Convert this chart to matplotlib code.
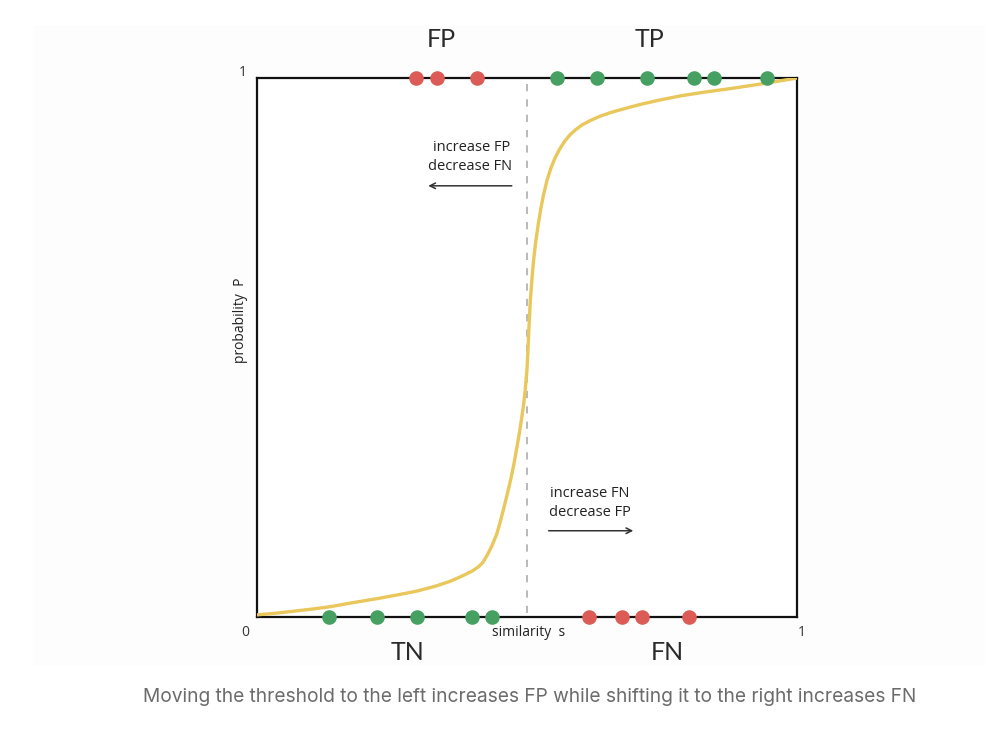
import matplotlib
matplotlib.use("Agg")
import matplotlib.pyplot as plt
from matplotlib.patches import Rectangle

# ---- data ----
curve_s = [0.000, 0.035, 0.070, 0.105, 0.135, 0.180, 0.228, 0.260, 0.296, 0.330,
           0.357, 0.380, 0.398, 0.410, 0.418, 0.426, 0.435, 0.444, 0.450, 0.456,
           0.463, 0.470, 0.476, 0.481, 0.486, 0.490, 0.494, 0.497, 0.500, 0.502,
           0.504, 0.506, 0.509, 0.512, 0.516, 0.521, 0.526, 0.531, 0.537, 0.544,
           0.552, 0.561, 0.570, 0.580, 0.590, 0.602, 0.617, 0.635, 0.655, 0.680,
           0.710, 0.745, 0.785, 0.830, 0.881, 0.940, 1.000]
curve_p = [0.004, 0.007, 0.011, 0.015, 0.019, 0.027, 0.035, 0.041, 0.048, 0.057,
           0.066, 0.076, 0.085, 0.093, 0.101, 0.114, 0.132, 0.154, 0.175, 0.198,
           0.226, 0.256, 0.285, 0.313, 0.342, 0.368, 0.396, 0.425, 0.460, 0.500,
           0.545, 0.585, 0.625, 0.660, 0.695, 0.730, 0.760, 0.785, 0.810, 0.832,
           0.852, 0.869, 0.883, 0.895, 0.904, 0.913, 0.921, 0.929, 0.936, 0.943,
           0.951, 0.959, 0.967, 0.974, 0.981, 0.990, 1.000]

top_red = [0.294, 0.333, 0.407]                       # FP
top_green = [0.556, 0.630, 0.722, 0.809, 0.846, 0.944]  # TP
bottom_green = [0.133, 0.222, 0.296, 0.398, 0.435]     # TN
bottom_red = [0.615, 0.676, 0.713, 0.800]              # FN
threshold = 0.5

quadrant_labels = ["FP", "TP", "TN", "FN"]
caption = "Moving the threshold to the left increases FP while shifting it to the right increases FN"

RED = "#dc5b56"
GREEN = "#46a062"
YELLOW = "#e9c75a"

fig = plt.figure(figsize=(10, 7.36), dpi=100)
fig.patch.set_facecolor("white")
bg = Rectangle((0.033, 0.097), 0.952, 0.869, transform=fig.transFigure,
               facecolor="#fdfdfd", edgecolor="none", zorder=-10)
fig.patches.append(bg)

ax = fig.add_axes([0.257, 0.1617, 0.54, 0.7323])
ax.set_zorder(5)
ax.set_facecolor("white")
ax.set_xlim(0, 1)
ax.set_ylim(0, 1)
for sp in ax.spines.values():
    sp.set_linewidth(1.6)
    sp.set_color("#111111")
ax.set_xticks([])
ax.set_yticks([])

ax.plot(curve_s, curve_p, color=YELLOW, lw=2.4, solid_capstyle="round",
        solid_joinstyle="round", zorder=3)
ax.plot([threshold, threshold], [0.008, 0.995], color="#b3b3b3", lw=1.3,
        dashes=(4, 4.5), zorder=2)

mk = dict(marker="o", ms=10.5, ls="none", clip_on=False, zorder=5, mec="none")
ax.plot(top_red, [1] * len(top_red), color=RED, **mk)
ax.plot(top_green, [1] * len(top_green), color=GREEN, **mk)
ax.plot(bottom_green, [0] * len(bottom_green), color=GREEN, **mk)
ax.plot(bottom_red, [0] * len(bottom_red), color=RED, **mk)

big = dict(fontsize=18, color="#2a2a2a", family="Lato", ha="center", va="center")
ax.text(0.341, 1.072, quadrant_labels[0], transform=ax.transAxes, **big)
ax.text(0.727, 1.072, quadrant_labels[1], transform=ax.transAxes, **big)
ax.text(0.278, -0.065, quadrant_labels[2], transform=ax.transAxes, **big)
ax.text(0.759, -0.065, quadrant_labels[3], transform=ax.transAxes, **big)

small = dict(fontsize=10.5, color="#222222", family="Open Sans", va="center",
             transform=ax.transAxes)
ax.text(0.397, 0.872, "increase FP", ha="center", **small)
ax.text(0.395, 0.835, "decrease FN", ha="center", **small)
ax.annotate("", xy=(0.312, 0.800), xytext=(0.477, 0.800), xycoords="axes fraction",
            arrowprops=dict(arrowstyle="->", color="#333333", lw=1.1))
ax.text(0.617, 0.230, "increase FN", ha="center", **small)
ax.text(0.617, 0.193, "decrease FP", ha="center", **small)
ax.annotate("", xy=(0.702, 0.160), xytext=(0.535, 0.160), xycoords="axes fraction",
            arrowprops=dict(arrowstyle="->", color="#333333", lw=1.1))

ax.text(0.502, -0.029, "similarity  s", ha="center", va="center", fontsize=10,
        color="#222222", family="Open Sans", transform=ax.transAxes)
ax.text(-0.030, 0.550, "probability  P", ha="center", va="center", fontsize=10,
        color="#222222", family="Open Sans", rotation=90, transform=ax.transAxes)

tick = dict(fontsize=10, color="#333333", family="Open Sans", ha="center", va="center",
            transform=ax.transAxes)
ax.text(-0.022, -0.028, "0", **tick)
ax.text(1.008, -0.028, "1", **tick)
ax.text(-0.026, 1.010, "1", **tick)

fig.text(0.530, 0.053, caption, ha="center", va="center", fontsize=13.8,
         color="#6b6b6b", family="Inter")

fig.savefig("out.png", dpi=100)
